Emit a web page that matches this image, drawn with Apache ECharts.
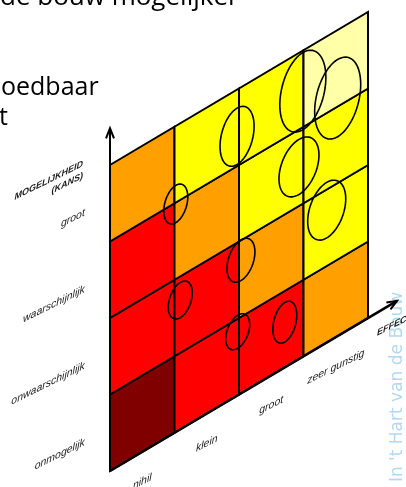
<!DOCTYPE html>
<html><head><meta charset="utf-8">
<script src="https://cdn.jsdelivr.net/npm/echarts@6/dist/echarts.min.js"></script>
<style>html,body{margin:0;padding:0;background:#fff;overflow:hidden}#c{width:406px;height:487px}</style>
</head><body><div id="c"></div>
<script>
// ---- data ----
const effectLabels = ['nihil', 'klein', 'groot', 'zeer gunstig'];
const kansLabels = ['onmogelijk', 'onwaarschijnlijk', 'waarschijnlijk', 'groot'];
const kansTitle = 'MOGELIJKHEID\n(KANS)';
const effectTitle = 'EFFECT';
// risk level per cell (0 = laag ... 4 = hoog), rows bottom->top, columns left->right
const riskRow0 = [4, 3, 3, 2];
const riskRow1 = [3, 3, 2, 1];
const riskRow2 = [3, 2, 1, 1];
const riskRow3 = [2, 1, 1, 0];
const riskColors = ['#FFFFA8', '#FFFF00', '#FFA000', '#FF0000', '#800000'];
// assessed items (ellipses) on effect / kans scale with their spread
const itemEffect = [1.02, 1.97, 2.99, 3.53, 2.93, 3.36, 2.03, 1.09, 1.98, 2.71];
const itemKans = [2.98, 3.39, 3.47, 3.11, 2.51, 1.73, 1.74, 1.69, 0.83, 0.59];
const itemSpreadEffect = [0.186, 0.264, 0.357, 0.357, 0.31, 0.295, 0.217, 0.186, 0.186, 0.186];
const itemSpreadKans = [0.244, 0.369, 0.505, 0.505, 0.36, 0.363, 0.266, 0.23, 0.216, 0.258];
const topTextLines = ['de bouw mogelijker', 'oedbaar', 't'];
const watermark = "In 't Hart van de Bouw";

// ---- layout ----
const SHEAR = 0.5;          // kans units rise per effect unit
const TEXT_SKEW = 0.46;
const labelColor = '#1a1a1a';

const riskRows = [riskRow0, riskRow1, riskRow2, riskRow3];
const cellData = [];
riskRows.forEach((row, r) => row.forEach((lvl, c) => cellData.push([c, r, lvl])));
const itemData = itemEffect.map((u, i) => [u, itemKans[i], itemSpreadEffect[i], itemSpreadKans[i]]);

function sheared(api, u, v) { return api.coord([u, v + u * SHEAR]); }

function chevron(tip, from) {
  const dx = tip[0] - from[0], dy = tip[1] - from[1];
  const len = Math.hypot(dx, dy), ux = dx / len, uy = dy / len;
  const L = 10, W = 4;
  const bx = tip[0] - ux * L, by = tip[1] - uy * L;
  return [[bx - uy * W, by + ux * W], tip, [bx + uy * W, by - ux * W]];
}

const chart = echarts.init(document.getElementById('c'), null, { renderer: 'canvas' });
chart.setOption({
  animation: false,
  backgroundColor: '#fff',
  grid: { left: 110, right: 38, top: 12, bottom: 16 },
  xAxis: { type: 'value', min: 0, max: 4, show: false },
  yAxis: { type: 'value', min: 0, max: 6, show: false },
  graphic: [
    { type: 'text', x: 0, y: -2, style: { text: topTextLines[0], fontSize: 26, fontFamily: 'Open Sans', fill: '#000', textVerticalAlign: 'middle', verticalAlign: 'middle' } },
    { type: 'text', x: 1, y: 88, style: { text: topTextLines[1], fontSize: 25, fontFamily: 'Open Sans', fill: '#000', textVerticalAlign: 'middle', verticalAlign: 'middle' } },
    { type: 'text', x: -1, y: 118, style: { text: topTextLines[2], fontSize: 25, fontFamily: 'Open Sans', fill: '#000', textVerticalAlign: 'middle', verticalAlign: 'middle' } },
    { type: 'text', x: 398, y: 387, rotation: Math.PI / 2, z: -1, style: { text: watermark, fontSize: 17, fontFamily: 'DejaVu Sans', fill: '#B2D9EF', textAlign: 'center', align: 'center', textVerticalAlign: 'middle', verticalAlign: 'middle' } }
  ],
  series: [
    {
      type: 'custom', name: 'cells', data: cellData, z: 2,
      renderItem: (params, api) => {
        const c = api.value(0), r = api.value(1), lvl = api.value(2);
        return {
          type: 'polygon',
          shape: { points: [sheared(api, c, r), sheared(api, c + 1, r), sheared(api, c + 1, r + 1), sheared(api, c, r + 1)] },
          style: { fill: riskColors[lvl], stroke: '#000', lineWidth: 2 }
        };
      }
    },
    {
      type: 'custom', name: 'items', data: itemData, z: 3,
      renderItem: (params, api) => {
        const u = api.value(0), v = api.value(1), a = api.value(2), b = api.value(3);
        const pts = [];
        for (let k = 0; k <= 72; k++) {
          const t = k / 72 * Math.PI * 2;
          pts.push(sheared(api, u + a * Math.cos(t), v + b * Math.sin(t)));
        }
        return { type: 'polyline', shape: { points: pts }, style: { fill: 'none', stroke: '#000', lineWidth: 1.6 } };
      }
    },
    {
      type: 'custom', name: 'axes', data: [[4.48, 4.45]], z: 4,
      renderItem: (params, api) => {
        const o = sheared(api, 0, 0);
        const vt = sheared(api, 0, api.value(0));
        const ht = sheared(api, api.value(1), 0);
        const st = { fill: 'none', stroke: '#000', lineWidth: 2 };
        return {
          type: 'group', children: [
            { type: 'polyline', shape: { points: [o, vt] }, style: st },
            { type: 'polyline', shape: { points: chevron(vt, o) }, style: st },
            { type: 'polyline', shape: { points: [o, ht] }, style: { fill: 'none', stroke: '#000', lineWidth: 2.6 } },
            { type: 'polyline', shape: { points: chevron(ht, o) }, style: st }
          ]
        };
      }
    },
    {
      type: 'custom', name: 'effectLabels', data: effectLabels.map((t, i) => [i]), z: 5,
      renderItem: (params, api) => {
        const i = api.value(0);
        const p = sheared(api, i + 0.5, -0.39);
        return { type: 'text', x: p[0], y: p[1], skewY: TEXT_SKEW,
          style: { text: effectLabels[i], fontSize: 10.5, fontStyle: 'italic', fontFamily: 'Liberation Sans', fill: labelColor,
            align: 'center', textAlign: 'center', verticalAlign: 'middle', textVerticalAlign: 'middle' } };
      }
    },
    {
      type: 'custom', name: 'kansLabels', data: kansLabels.map((t, i) => [i]), z: 5,
      renderItem: (params, api) => {
        const i = api.value(0);
        const p = api.coord([-0.39, i + 0.38]);
        return { type: 'text', x: p[0], y: p[1], skewY: TEXT_SKEW,
          style: { text: kansLabels[i], fontSize: 10.5, fontStyle: 'italic', fontFamily: 'Liberation Sans', fill: labelColor,
            align: 'right', textAlign: 'right', verticalAlign: 'middle', textVerticalAlign: 'middle' } };
      }
    },
    {
      type: 'custom', name: 'titles', data: [[0]], z: 5,
      renderItem: (params, api) => {
        const p = api.coord([-0.42, 3.94]);
        const q = api.coord([4.14, 1.80]);
        return { type: 'group', children: [
          { type: 'text', x: p[0], y: p[1], skewY: TEXT_SKEW,
            style: { text: kansTitle, fontSize: 9, fontWeight: 'bold', fontStyle: 'italic', fontFamily: 'Liberation Sans', fill: labelColor, lineHeight: 12,
              align: 'right', textAlign: 'right', verticalAlign: 'middle', textVerticalAlign: 'middle' } },
          { type: 'text', x: q[0], y: q[1], skewY: TEXT_SKEW,
            style: { text: effectTitle, fontSize: 9, fontWeight: 'bold', fontStyle: 'italic', fontFamily: 'Liberation Sans', fill: labelColor,
              align: 'left', textAlign: 'left', verticalAlign: 'middle', textVerticalAlign: 'middle' } }
        ] };
      }
    }
  ]
});
</script></body></html>
